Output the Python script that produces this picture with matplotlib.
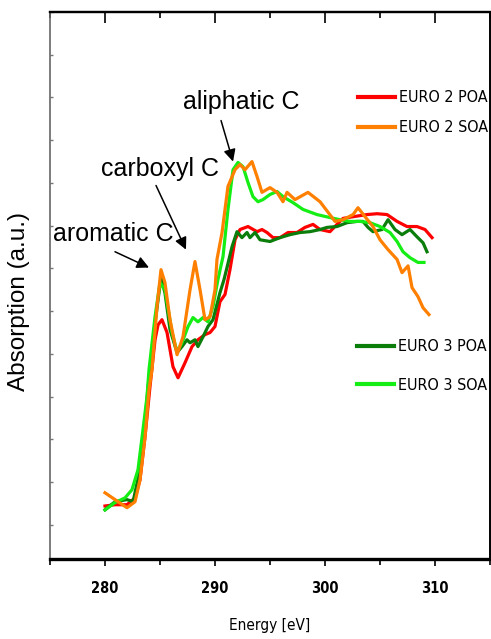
import matplotlib
matplotlib.use("Agg")
import matplotlib.pyplot as plt
from matplotlib import font_manager
from matplotlib.font_manager import FontProperties
from matplotlib.ticker import MultipleLocator

# energy (eV) and absorption (a.u.)
e2_poa_x = [280.0, 280.91, 282.0, 282.73, 283.18, 283.64, 284.09, 284.55, 284.82, 285.18,
            285.64, 286.18, 286.64, 287.27, 287.91, 288.45, 289.09, 289.55, 290.0, 290.45,
            290.91, 291.36, 291.82, 292.27, 293.0, 293.82, 294.27, 294.73, 295.27, 295.91,
            296.64, 297.45, 298.18, 298.91, 299.55, 300.45, 301.09, 301.64, 302.55, 303.82,
            304.73, 305.64, 306.55, 307.45, 308.36, 309.09, 309.73]
e2_poa_y = [0.044, 0.047, 0.047, 0.063, 0.105, 0.206, 0.323, 0.433, 0.468, 0.480,
            0.450, 0.370, 0.344, 0.379, 0.417, 0.433, 0.445, 0.450, 0.464, 0.522,
            0.539, 0.597, 0.667, 0.691, 0.698, 0.686, 0.691, 0.684, 0.672, 0.672,
            0.684, 0.684, 0.696, 0.703, 0.691, 0.686, 0.703, 0.717, 0.721, 0.726,
            0.728, 0.726, 0.710, 0.698, 0.698, 0.691, 0.672]

e2_soa_x = [280.0, 280.91, 282.0, 282.73, 283.18, 283.64, 284.0, 284.27, 284.73, 285.09,
            285.45, 285.91, 286.55, 287.09, 287.73, 288.18, 288.64, 289.09, 289.55, 290.0,
            290.18, 290.64, 291.18, 291.82, 292.27, 292.73, 293.36, 293.82, 294.27, 294.73,
            295.0, 295.64, 296.18, 296.55, 297.27, 298.45, 299.55, 300.91, 301.64, 302.55,
            303.0, 303.64, 304.36, 305.0, 305.73, 306.55, 307.0, 307.55, 307.91, 308.45,
            308.91, 309.45]
e2_soa_y = [0.075, 0.059, 0.040, 0.054, 0.105, 0.206, 0.316, 0.363, 0.511, 0.597,
            0.567, 0.480, 0.398, 0.440, 0.550, 0.616, 0.550, 0.480, 0.487, 0.550,
            0.621, 0.684, 0.792, 0.831, 0.843, 0.831, 0.850, 0.815, 0.778, 0.785,
            0.789, 0.778, 0.756, 0.778, 0.761, 0.778, 0.756, 0.710, 0.714, 0.726,
            0.742, 0.721, 0.698, 0.667, 0.644, 0.621, 0.590, 0.606, 0.555, 0.534,
            0.508, 0.492]

e3_poa_x = [280.0, 280.91, 282.0, 282.55, 283.18, 283.64, 283.91, 284.09, 284.55, 285.09,
            285.45, 285.91, 286.55, 287.0, 287.45, 287.73, 288.18, 288.45, 288.91, 289.36,
            289.82, 290.45, 290.82, 291.09, 291.55, 292.0, 292.45, 292.91, 293.18, 293.64,
            294.09, 295.0, 295.91, 296.82, 297.73, 298.64, 299.55, 300.18, 301.09, 302.0,
            302.91, 303.45, 303.91, 304.36, 305.18, 305.73, 306.36, 307.0, 307.73, 308.36,
            308.91, 309.27]
e3_poa_y = [0.035, 0.054, 0.059, 0.054, 0.129, 0.239, 0.323, 0.356, 0.473, 0.578,
            0.543, 0.457, 0.403, 0.417, 0.433, 0.426, 0.433, 0.417, 0.440, 0.464,
            0.480, 0.543, 0.574, 0.602, 0.651, 0.686, 0.672, 0.684, 0.672, 0.684,
            0.667, 0.663, 0.672, 0.679, 0.684, 0.686, 0.691, 0.696, 0.698, 0.707,
            0.710, 0.710, 0.696, 0.686, 0.691, 0.714, 0.691, 0.679, 0.691, 0.674,
            0.660, 0.639]

e3_soa_x = [280.0, 280.91, 281.82, 282.45, 283.0, 283.45, 283.82, 284.0, 284.55, 285.0,
            285.45, 286.09, 286.55, 287.0, 287.55, 288.0, 288.45, 288.91, 289.36, 289.82,
            290.27, 290.73, 291.18, 291.64, 292.09, 292.55, 293.0, 293.45, 293.91, 294.36,
            295.0, 295.64, 296.18, 297.09, 298.0, 299.27, 300.45, 301.36, 302.27, 303.18,
            304.09, 305.0, 305.91, 306.55, 307.09, 307.73, 308.45, 309.0]
e3_soa_y = [0.035, 0.052, 0.063, 0.082, 0.129, 0.222, 0.300, 0.363, 0.487, 0.567,
            0.550, 0.450, 0.405, 0.426, 0.464, 0.485, 0.475, 0.485, 0.475, 0.511,
            0.574, 0.628, 0.738, 0.831, 0.848, 0.838, 0.801, 0.768, 0.756, 0.761,
            0.773, 0.780, 0.768, 0.754, 0.738, 0.726, 0.719, 0.714, 0.710, 0.710,
            0.707, 0.698, 0.684, 0.663, 0.639, 0.625, 0.614, 0.614]

# (label, text position, arrow tail, arrow head)
peaks = [("aliphatic C", (287.09, 0.972), (290.55, 0.946), (291.64, 0.850)),
         ("carboxyl C", (279.64, 0.817), (284.64, 0.794), (287.36, 0.644)),
         ("aromatic C", (275.27, 0.665), (280.91, 0.639), (284.0, 0.602))]


def narrow_font(weight="normal"):
    """Look for a narrow / condensed sans font, else None."""
    best = None
    for f in font_manager.fontManager.ttflist:
        name = f.name
        cond = ("Narrow" in name or "Condensed" in name
                or f.stretch in ("condensed", "semi-condensed", "extra-condensed", 400))
        if not cond or "Mono" in name or "Serif" in name:
            continue
        if "italic" in f.style or "oblique" in f.style:
            continue
        w = f.weight if isinstance(f.weight, int) else (700 if "bold" in str(f.weight) else 400)
        want = 700 if weight == "bold" else 400
        score = abs(w - want)
        if best is None or score < best[0]:
            best = (score, f.fname)
    return best[1] if best else None


def main():
    nfile = narrow_font()
    nbfile = narrow_font("bold")
    if nfile:
        lab_font = lambda size: FontProperties(fname=nfile, size=size)
    else:
        lab_font = lambda size: FontProperties(family="Liberation Sans", size=size * 0.9)
    if nbfile:
        tick_font = FontProperties(fname=nbfile, size=10.5)
    else:
        tick_font = FontProperties(family="Liberation Sans", weight="bold", size=10)

    fig = plt.figure(figsize=(4.91, 6.39), dpi=100)
    ax = fig.add_axes([0.1018, 0.1252, 0.8962, 0.856])

    l1, = ax.plot(e2_poa_x, e2_poa_y, color="#ff0000", lw=2.3, label="EURO 2 POA")
    l2, = ax.plot(e2_soa_x, e2_soa_y, color="#ff8000", lw=2.3, label="EURO 2 SOA")
    l3, = ax.plot(e3_poa_x, e3_poa_y, color="#0a7d0a", lw=2.3, label="EURO 3 POA")
    l4, = ax.plot(e3_soa_x, e3_soa_y, color="#14ee14", lw=2.3, label="EURO 3 SOA")
    l1.set_zorder(3); l3.set_zorder(4); l4.set_zorder(5); l2.set_zorder(6)

    ax.set_xlim(275, 315)
    ax.set_ylim(-0.08, 1.2)

    ax.xaxis.set_major_locator(MultipleLocator(10))
    ax.xaxis.set_minor_locator(MultipleLocator(5))
    ax.yaxis.set_major_locator(MultipleLocator(0.1))
    ax.tick_params(axis="x", which="major", direction="out", length=5, width=1.2, pad=11)
    ax.tick_params(axis="x", which="minor", direction="out", length=4, width=1.2)
    ax.tick_params(axis="y", which="major", direction="in", length=2.5, width=1,
                   color="#777777", labelleft=False)
    for lab in ax.get_xticklabels():
        lab.set_fontproperties(tick_font)

    top = ax.secondary_xaxis("top")
    top.xaxis.set_major_locator(MultipleLocator(10))
    top.xaxis.set_minor_locator(MultipleLocator(5))
    top.tick_params(which="major", direction="in", length=8, width=1.2, labeltop=False)
    top.tick_params(which="minor", direction="in", length=4, width=1.2)
    top.spines["top"].set_linewidth(1.6)

    ax.spines["bottom"].set_linewidth(2.4)
    ax.spines["left"].set_linewidth(1.2)
    ax.spines["left"].set_color("#666666")
    ax.spines["right"].set_linewidth(1.4)
    ax.spines["top"].set_linewidth(1.6)

    ax.set_xlabel("Energy [eV]", fontproperties=lab_font(11))
    ax.xaxis.set_label_coords(0.5, -0.108)
    ax.set_ylabel("Absorption (a.u.)", family="Liberation Sans", fontsize=17.5)
    ax.yaxis.set_label_coords(-0.045, 0.47)

    for text, txy, tail, head in peaks:
        ax.text(txy[0], txy[1], text, family="Liberation Sans", fontsize=18,
                ha="left", va="baseline", zorder=8)
        ax.annotate("", xy=head, xytext=tail,
                    arrowprops=dict(arrowstyle="-|>", color="black", lw=1.1,
                                    mutation_scale=18, shrinkA=0, shrinkB=0))

    leg1 = ax.legend(handles=[l1, l2], loc="upper left", bbox_to_anchor=(0.7, 0.857),
                     frameon=False, prop=lab_font(11.5),
                     handlelength=2.3, handletextpad=0.25, labelspacing=0.94,
                     borderpad=0, borderaxespad=0)
    for h in leg1.get_lines():
        h.set_linewidth(3)
    ax.add_artist(leg1)
    leg2 = ax.legend(handles=[l3, l4], loc="upper left", bbox_to_anchor=(0.698, 0.402),
                     frameon=False, prop=lab_font(11.5),
                     handlelength=2.3, handletextpad=0.25, labelspacing=1.5,
                     borderpad=0, borderaxespad=0)
    for h in leg2.get_lines():
        h.set_linewidth(3)

    fig.savefig("out.png", dpi=100)


if __name__ == "__main__":
    main()
